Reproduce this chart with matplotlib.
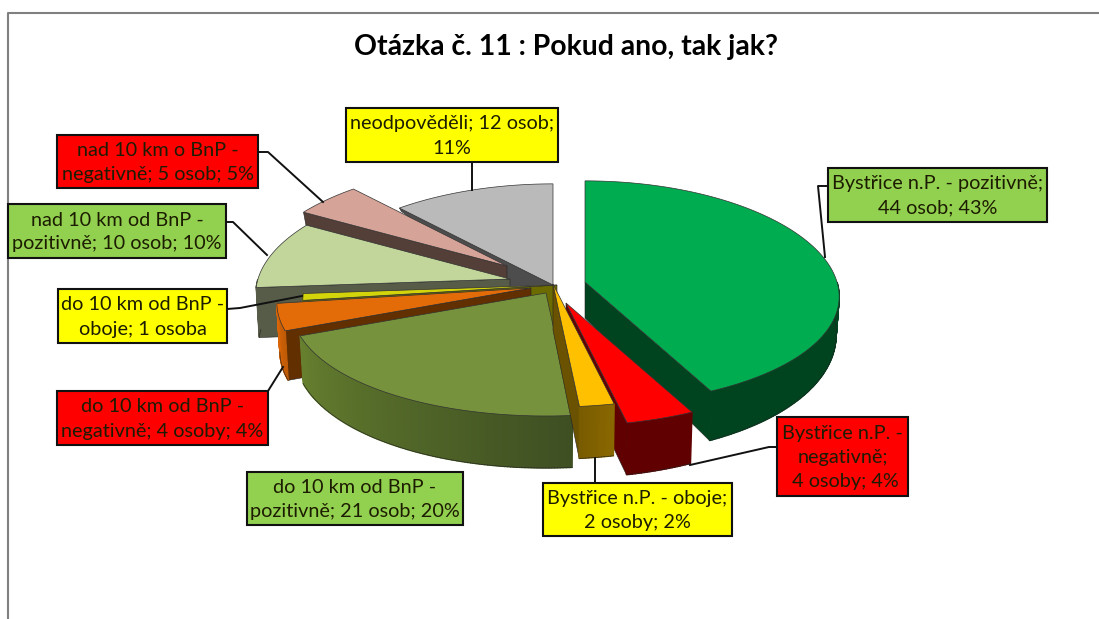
import numpy as np
import matplotlib
matplotlib.use('Agg')
import matplotlib.pyplot as plt
from matplotlib.colors import to_rgb
from matplotlib.patches import Polygon, Rectangle

plt.rcParams['font.family'] = ['Lato', 'DejaVu Sans']

title = 'Otázka č. 11 : Pokud ano, tak jak?'
categories = ['Bystřice n.P. - pozitivně', 'Bystřice n.P. - negativně', 'Bystřice n.P. - oboje',
              'do 10 km od BnP - pozitivně', 'do 10 km od BnP - negativně', 'do 10 km od BnP - oboje',
              'nad 10 km od BnP - pozitivně', 'nad 10 km o BnP - negativně', 'neodpověděli']
counts = [44, 4, 2, 21, 4, 1, 10, 5, 12]
labels = ['Bystřice n.P. - pozitivně;\n44 osob; 43%', 'Bystřice n.P. -\nnegativně;\n 4 osoby; 4%',
          'Bystřice n.P. - oboje;\n2 osoby; 2%', 'do 10 km od BnP -\npozitivně; 21 osob; 20%',
          'do 10 km od BnP -\nnegativně; 4 osoby; 4%', 'do 10 km od BnP -\noboje; 1 osoba',
          'nad 10 km od BnP -\npozitivně; 10 osob; 10%', 'nad 10 km o BnP -\nnegativně; 5 osob; 5%',
          'neodpověděli; 12 osob;\n11%']

# look of each slice
top_colors = ['#00ac50', '#ff0000', '#ffc000', '#76923c', '#e36c09', '#d4d40a', '#c2d69b', '#d6a398', '#bababa']
radial_colors = ['#00441f', '#600000', '#6b5200', '#4a5e26', '#612f00', '#6b6b00', '#565c48', '#543e38', '#4d4d4d']
rim_from = ['#00441f', '#600000', '#8a6800', '#3e4f22', '#bf5a06', '#6b6b00', '#565c48', '#543e38', '#4d4d4d']
rim_to = ['#00441f', '#600000', '#7a5c00', '#66802f', '#d86608', '#6b6b00', '#565c48', '#543e38', '#4d4d4d']
# explosion of each slice in pixels, and side height: base + slope * z
offsets = [(32, -3), (13, 18), (0, -1), (-7, 8), (-22, 3), (4, 0), (-43, -6), (-46, -19), (0, 0)]
depth_base = [36, 46, 46, 45, 48, 40, 50, 13, 36]
depth_slope = [15, 6, 6, 7, 4, 0, 0, 0, 44]
draw_order = [8, 7, 6, 5, 4, 3, 0, 1, 2]

box_colors = ['#92d050', '#ff0000', '#ffff00', '#92d050', '#ff0000', '#ffff00', '#92d050', '#ff0000', '#ffff00']
boxes = [(828, 168, 1047, 222), (777, 417, 908, 496), (543, 483, 732, 536),
         (247, 472, 463, 525), (57, 391, 268, 445), (58, 289, 227, 343),
         (8, 204, 226, 258), (57, 135, 258, 188), (346, 108, 558, 162)]
leaders = [[(828, 186), (818, 186), (825, 257)], [(777, 447), (769, 447), (690, 465)],
           [(595, 483), (595, 458)], None, [(268, 391), (283, 367)],
           [(227, 309), (240, 308), (302, 296)], [(226, 222), (233, 222), (267, 255)],
           [(258, 152), (268, 152), (323, 202)], [(472, 162), (472, 190)]]

CX, CY = 553, 285
RX, RY = 252, 111


def project(theta, off):
    # theta clockwise from the top, z runs from back (-1) to front (1)
    z = -np.cos(theta)
    x = CX + off[0] + RX * np.sin(theta) / (1 - 0.13 * z)
    y = CY + off[1] + RY * z / (1 - 0.0975 * z)
    return x, y, z


fig = plt.figure(figsize=(10.99, 6.19), dpi=100)
ax = fig.add_axes([0, 0, 1, 1])
ax.set_xlim(0, 1099)
ax.set_ylim(619, 0)
ax.axis('off')

# frame of the chart area
ax.plot([8, 8, 1099], [619, 13, 13], color='#808080', lw=1.5)

ax.text(566, 47, title, ha='center', va='center', fontsize=20.4, fontweight='bold', color='black')

edges = 2 * np.pi * np.cumsum([0] + counts) / sum(counts)
for order, i in enumerate(draw_order):
    zo = 2 + order
    theta = np.linspace(edges[i], edges[i + 1], max(int(counts[i] * 6), 6))
    x, y, z = project(theta, offsets[i])
    depth = np.maximum(depth_base[i] + depth_slope[i] * z, 3)
    xb = x + (CX + offsets[i][0] - x) * 0.012
    yb = y + depth
    apex = (CX + offsets[i][0], CY + offsets[i][1])
    apex_b = (apex[0], apex[1] + depth_base[i])

    # only the cut face turned to the viewer is drawn
    if np.sin(edges[i + 1]) > 0 and edges[i + 1] < np.pi:
        k = -1
    elif edges[i] > np.pi:
        k = 0
    else:
        k = None
    if k is not None:
        ax.add_patch(Polygon([apex, (x[k], y[k]), (xb[k], yb[k]), apex_b], closed=True,
                             facecolor=radial_colors[i], edgecolor='#222222', lw=0.4, zorder=zo))
    # outer rim, front part only, in thin strips for the colour gradient
    c0, c1 = np.array(to_rgb(rim_from[i])), np.array(to_rgb(rim_to[i]))
    front = np.where(z >= 0)[0]
    for k in front[:-1]:
        col = c0 + (c1 - c0) * k / max(len(theta) - 2, 1)
        ax.add_patch(Polygon([(x[k], y[k]), (x[k + 1], y[k + 1]), (xb[k + 1], yb[k + 1]), (xb[k], yb[k])],
                             closed=True, facecolor=col, edgecolor=col, lw=1.0, zorder=zo))
    if len(front) > 1:
        ax.plot(xb[front], yb[front], color='#222222', lw=0.4, zorder=zo)
    # top face
    ax.add_patch(Polygon(np.vstack([[apex], np.column_stack([x, y])]), closed=True,
                         facecolor=top_colors[i], edgecolor='#333333', lw=0.5, zorder=zo))

for lead in leaders:
    if lead is not None:
        ax.plot([p[0] for p in lead], [p[1] for p in lead], color='#111111', lw=1.4, zorder=20)

for lab, col, (x0, y0, x1, y1) in zip(labels, box_colors, boxes):
    ax.add_patch(Rectangle((x0, y0), x1 - x0, y1 - y0, facecolor=col, edgecolor='#111111', lw=1.5, zorder=21))
    ax.text((x0 + x1) / 2, (y0 + y1) / 2 + 1, lab, ha='center', va='center', fontsize=14.3,
            color='#1c1c00', linespacing=1.5, zorder=22)

fig.savefig('out.png', dpi=100)
